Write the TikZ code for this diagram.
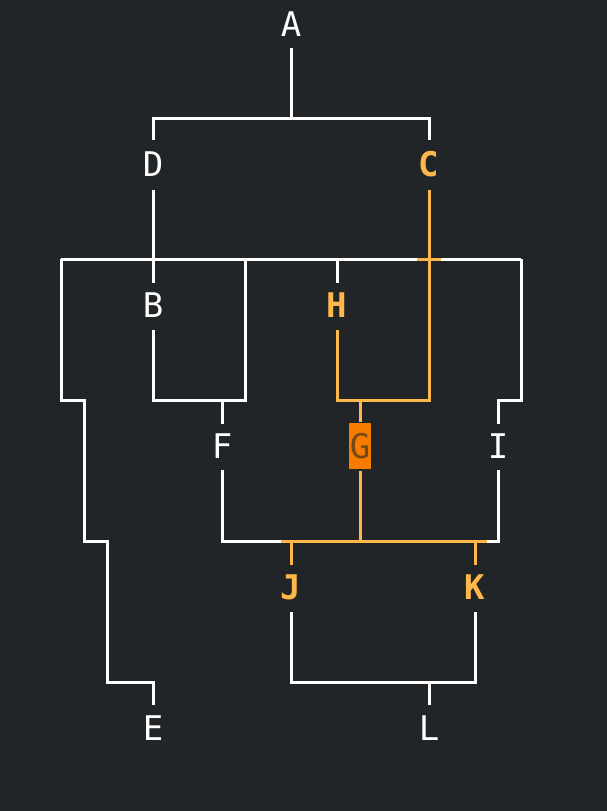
\documentclass[tikz,border=0pt]{standalone}
\usepackage{fontspec}
\setmainfont{DejaVu Sans Mono}
\definecolor{bg}{HTML}{222527}
\definecolor{hl}{HTML}{FDB74A}
\definecolor{box}{HTML}{F57C00}
\begin{document}
\begin{tikzpicture}[x=1pt,y=-1pt,line width=3pt,
  lab/.style={text=white,font=\fontsize{34}{34}\selectfont,inner sep=0pt},
  hlab/.style={lab,text=hl,font=\fontsize{34}{34}\selectfont\bfseries},
  w/.style={draw=white},o/.style={draw=hl}]
\fill[bg] (0,0) rectangle (607,811);
\useasboundingbox (0,0) rectangle (607,811);
\node[lab] (A) at (291,24) {A};
\node[lab] (D) at (153,164) {D};
\node[hlab] (C) at (429,164) {C};
\node[lab] (B) at (153,305) {B};
\node[hlab] (H) at (337,305) {H};
\node[lab] (F) at (222,446) {F};
\node[lab,fill=box,text=bg!60!box,minimum width=22pt,minimum height=46pt] (G) at (360,446) {G};
\node[lab] (I) at (498,446) {I};
\node[hlab] (J) at (291,587) {J};
\node[hlab] (K) at (475,587) {K};
\node[lab] (E) at (153,728) {E};
\node[lab] (L) at (429,728) {L};
\coordinate (jt) at (291,612); \coordinate (kt) at (475,612);
\draw[w] (291,48) -- (291,118);
\draw[w] (153,140) -- (153,118) -- (429,118) -- (429,140);
\draw[w] (153,190) -- (153,283);
\draw[w] (61,259) -- (417,259); \draw[w] (441,259) -- (521,259);
\draw[w] (153,330) -- (153,400) -- (245,400) -- (245,259);
\draw[w] (337,259) -- (337,283);
\draw[w] (61,259) -- (61,400) -- (84,400) -- (84,541) -- (107,541) -- (107,682) -- (153,682) -- (153,705);
\draw[w] (521,259) -- (521,400) -- (498,400) -- (498,424);
\draw[w] (222,400) -- (222,424);
\draw[w] (222,470) -- (222,541) -- (281,541);
\draw[w] (487,541) -- (498,541) -- (498,470);
\draw[w] (291,612) -- (291,682) -- (475,682) -- (475,612);
\draw[w] (429,682) -- (429,705);
\draw[o] (337,330) -- (337,400) -- (429,400) -- (429,190);
\draw[o] (417,259) -- (441,259);
\draw[o] (360,400) -- (G.north);
\draw[o] (G.south) -- (360,541);
\draw[o] (281,541) -- (487,541);
\draw[o] (291,541) -- (291,565); \draw[o] (475,541) -- (475,565);
\end{tikzpicture}
\end{document}
